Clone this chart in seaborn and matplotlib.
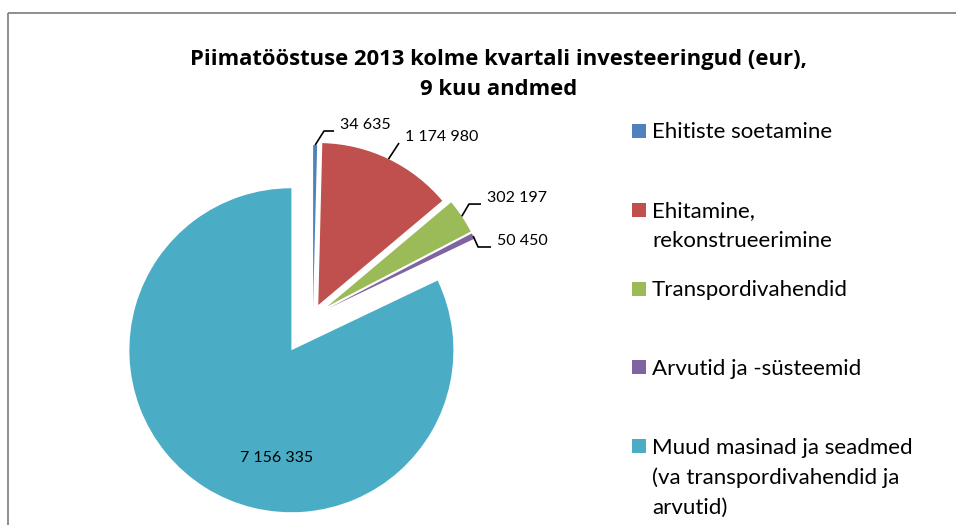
import numpy as np
import matplotlib.pyplot as plt
import seaborn as sns
from matplotlib.patches import Rectangle

categories = [
    "Ehitiste soetamine",
    "Ehitamine,\nrekonstrueerimine",
    "Transpordivahendid",
    "Arvutid ja -süsteemid",
    "Muud masinad ja seadmed\n(va transpordivahendid ja\narvutid)",
]
values = [34635, 1174980, 302197, 50450, 7156335]
value_labels = ["34 635", "1 174 980", "302 197", "50 450", "7 156 335"]
colors = ["#4F81BD", "#C0504D", "#9BBB59", "#8064A2", "#4BACC6"]
title = "Piimatööstuse 2013 kolme kvartali investeeringud (eur),\n9 kuu andmed"

# how far each slice is pulled out (in pie radii)
explode = [0.055, 0.075, 0.105, 0.105, 0.25]
# data label position (pie radius units, relative to pie centre) and leader elbow length
label_pos = [(0.167, 1.179), (0.568, 1.105), (1.074, 0.728), (1.136, 0.463), (-0.228, -0.877)]
elbow = [0.062, 0.0, 0.074, 0.08, None]

W, H = 956, 525
sns.set_theme(style="white")
plt.rcParams['font.family'] = ['Lato', 'DejaVu Sans']

fig = plt.figure(figsize=(W / 100, H / 100), dpi=100)
fig.patch.set_facecolor('white')

# overlay in pixel coords for border, title and legend
ov = fig.add_axes([0, 0, 1, 1])
ov.set_xlim(0, W)
ov.set_ylim(H, 0)
ov.axis('off')
ov.add_patch(Rectangle((8.5, 12.5), W, H, fill=False, ec='#868686', lw=1.3))

for i, line in enumerate(title.split('\n')):
    ov.text(499, 65 + i * 30, line, ha='center', va='baseline',
            fontsize=15.8, fontweight='bold', color='black',
            family=['Open Sans', 'DejaVu Sans'])

# pie
R = 162
cx, cy = 313, H - 316
L = 1.8
S = 2 * L * R
ax = fig.add_axes([(cx - S / 2) / W, (cy - S / 2) / H, S / W, S / H])
wedges, _ = ax.pie(values, colors=colors, explode=explode, startangle=90,
                   counterclock=False, radius=1, wedgeprops=dict(linewidth=0))
ax.set_xlim(-L, L)
ax.set_ylim(-L, L)
ax.set_aspect('equal')
ax.axis('off')

px = 1 / R
for w, lab, (tx, ty), e in zip(wedges, value_labels, label_pos, elbow):
    if e is None:
        ax.text(tx, ty, lab, ha='center', va='center', fontsize=11.5, color='black')
        continue
    mid = np.deg2rad((w.theta1 + w.theta2) / 2)
    x0 = w.center[0] + w.r * np.cos(mid)
    y0 = w.center[1] + w.r * np.sin(mid)
    xe, ye = tx - 6 * px, ty - 6 * px
    ax.plot([x0, xe - e, xe], [y0, ye, ye], color='black', lw=1.2,
            solid_capstyle='butt', clip_on=False)
    ax.text(tx, ty, lab, ha='left', va='center', fontsize=11.5, color='black')

# legend, entries evenly spaced like Excel
for k, (cat, col) in enumerate(zip(categories, colors)):
    sy = 131 + k * 78.8
    ov.add_patch(Rectangle((632, sy - 7), 14, 14, color=col, lw=0))
    for j, line in enumerate(cat.split('\n')):
        ov.text(652, sy + 7.5 + j * 30, line, ha='left', va='baseline',
                fontsize=16, color='black')

fig.savefig('out.png', dpi=100)
